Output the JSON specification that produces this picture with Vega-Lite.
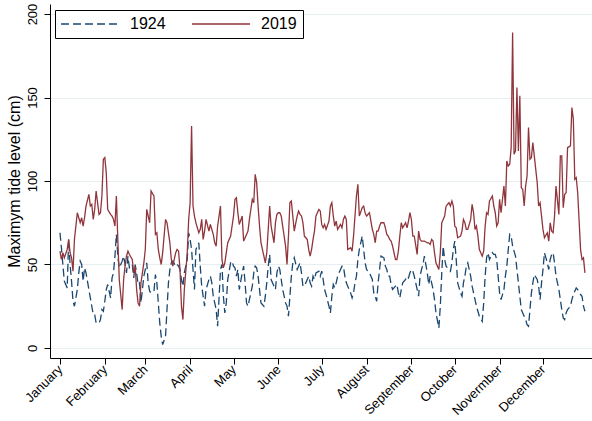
{
"$schema": "https://vega.github.io/schema/vega-lite/v6.json",
"width": 542, "height": 354,
"autosize": {"type": "none"},
"padding": {"left": 50, "top": 4, "right": 0, "bottom": 63},
"background": "white",
"config": {"view": {"stroke": null}, "font": "Liberation Sans"},
"data": {"values": [
{"day":1,"1924":69,"2019":58},{"day":2,"1924":60,"2019":53},{"day":3,"1924":50,"2019":57},{"day":4,"1924":40,"2019":54},{"day":6,"1924":36,"2019":59},{"day":7,"1924":65,"2019":65},{"day":8,"1924":50,"2019":57},{"day":9,"1924":40,"2019":54},{"day":10,"1924":28,"2019":46},{"day":11,"1924":25,"2019":65},{"day":13,"1924":35,"2019":81},{"day":14,"1924":45,"2019":78},{"day":15,"1924":52,"2019":75},{"day":16,"1924":50,"2019":78},{"day":17,"1924":40,"2019":73},{"day":18,"1924":48,"2019":78},{"day":19,"1924":45,"2019":85},{"day":21,"1924":35,"2019":92},{"day":22,"1924":30,"2019":85},{"day":23,"1924":25,"2019":86},{"day":24,"1924":20,"2019":77},{"day":25,"1924":20,"2019":83},{"day":26,"1924":15,"2019":94},{"day":28,"1924":15,"2019":80},{"day":29,"1924":17,"2019":81},{"day":30,"1924":23,"2019":91},{"day":31,"1924":22,"2019":113},{"day":32,"1924":28,"2019":114},{"day":33,"1924":35,"2019":105},{"day":34,"1924":38,"2019":83},{"day":36,"1924":30,"2019":80},{"day":37,"1924":42,"2019":79},{"day":38,"1924":45,"2019":77},{"day":39,"1924":55,"2019":73},{"day":40,"1924":68,"2019":91},{"day":41,"1924":55,"2019":65},{"day":42,"1924":48,"2019":41},{"day":44,"1924":52,"2019":23},{"day":45,"1924":55,"2019":41},{"day":46,"1924":50,"2019":49},{"day":47,"1924":45,"2019":55},{"day":48,"1924":55,"2019":58},{"day":49,"1924":48,"2019":56},{"day":51,"1924":50,"2019":53},{"day":52,"1924":42,"2019":45},{"day":53,"1924":50,"2019":49},{"day":54,"1924":45,"2019":35},{"day":55,"1924":38,"2019":27},
{"day":56,"1924":39,"2019":25},{"day":57,"1924":27,"2019":39},{"day":59,"1924":43,"2019":51},{"day":60,"1924":47,"2019":59},{"day":61,"1924":51,"2019":83},{"day":62,"1924":39,"2019":79},{"day":63,"1924":34,"2019":75},{"day":64,"1924":33,"2019":94},{"day":66,"1924":34,"2019":91},{"day":67,"1924":44,"2019":68},{"day":68,"1924":39,"2019":69},{"day":69,"1924":27,"2019":59},{"day":70,"1924":15,"2019":54},{"day":71,"1924":7,"2019":50},{"day":72,"1924":2,"2019":57},{"day":74,"1924":7,"2019":77},{"day":75,"1924":23,"2019":75},{"day":76,"1924":39,"2019":69},{"day":77,"1924":47,"2019":63},{"day":78,"1924":51,"2019":53},{"day":79,"1924":52,"2019":49},{"day":81,"1924":49,"2019":57},{"day":82,"1924":50,"2019":59},{"day":83,"1924":49,"2019":58},{"day":84,"1924":47,"2019":47},{"day":85,"1924":41,"2019":25},{"day":86,"1924":37,"2019":17},{"day":87,"1924":45,"2019":35},{"day":89,"1924":53,"2019":57},{"day":90,"1924":69,"2019":77},{"day":91,"1924":65,"2019":87},{"day":92,"1924":59,"2019":133},{"day":93,"1924":47,"2019":85},{"day":94,"1924":35,"2019":79},{"day":95,"1924":59,"2019":75},{"day":97,"1924":63,"2019":69},{"day":98,"1924":49,"2019":71},{"day":99,"1924":37,"2019":77},{"day":100,"1924":31,"2019":65},{"day":101,"1924":25,"2019":70},{"day":102,"1924":35,"2019":77},{"day":104,"1924":41,"2019":70},{"day":105,"1924":43,"2019":74},{"day":106,"1924":39,"2019":71},{"day":107,"1924":31,"2019":68},{"day":108,"1924":27,"2019":63},{"day":109,"1924":23,"2019":61},{"day":110,"1924":13,"2019":73},{"day":112,"1924":47,"2019":85},{"day":113,"1924":50,"2019":53},{"day":114,"1924":31,"2019":48},{"day":115,"1924":21,"2019":51},{"day":116,"1924":27,"2019":57},{"day":117,"1924":41,"2019":63},{"day":119,"1924":51,"2019":67},{"day":120,"1924":52,"2019":73},{"day":121,"1924":49,"2019":79},
{"day":122,"1924":48,"2019":89},{"day":123,"1924":43,"2019":90},{"day":124,"1924":47,"2019":81},{"day":125,"1924":35,"2019":74},{"day":127,"1924":45,"2019":79},{"day":128,"1924":49,"2019":64},{"day":129,"1924":39,"2019":66},{"day":130,"1924":27,"2019":68},{"day":131,"1924":25,"2019":70},{"day":132,"1924":29,"2019":77},{"day":134,"1924":37,"2019":89},{"day":135,"1924":45,"2019":87},{"day":136,"1924":49,"2019":104},{"day":137,"1924":48,"2019":99},{"day":138,"1924":43,"2019":85},{"day":139,"1924":35,"2019":73},{"day":140,"1924":27,"2019":63},{"day":142,"1924":25,"2019":55},{"day":143,"1924":31,"2019":51},{"day":144,"1924":39,"2019":57},{"day":145,"1924":49,"2019":71},{"day":146,"1924":56,"2019":85},{"day":147,"1924":41,"2019":73},{"day":149,"1924":37,"2019":63},{"day":150,"1924":35,"2019":75},{"day":151,"1924":45,"2019":80},{"day":152,"1924":49,"2019":81},{"day":153,"1924":47,"2019":81},{"day":154,"1924":41,"2019":79},{"day":155,"1924":35,"2019":73},{"day":157,"1924":27,"2019":61},{"day":158,"1924":25,"2019":50},{"day":159,"1924":19,"2019":67},{"day":160,"1924":31,"2019":87},{"day":161,"1924":43,"2019":88},{"day":162,"1924":51,"2019":79},{"day":163,"1924":54,"2019":70},{"day":165,"1924":47,"2019":79},{"day":166,"1924":49,"2019":82},{"day":167,"1924":51,"2019":80},{"day":168,"1924":45,"2019":79},{"day":169,"1924":37,"2019":75},{"day":170,"1924":37,"2019":67},{"day":172,"1924":41,"2019":65},{"day":173,"1924":43,"2019":59},{"day":174,"1924":39,"2019":55},{"day":175,"1924":37,"2019":59},{"day":176,"1924":43,"2019":65},{"day":177,"1924":41,"2019":70},{"day":178,"1924":45,"2019":79},{"day":180,"1924":46,"2019":83},{"day":181,"1924":43,"2019":82},{"day":182,"1924":46,"2019":74},{"day":183,"1924":41,"2019":72},{"day":184,"1924":35,"2019":74},{"day":185,"1924":32,"2019":71},{"day":187,"1924":25,"2019":76},
{"day":188,"1924":21,"2019":85},{"day":189,"1924":31,"2019":87},{"day":190,"1924":38,"2019":79},{"day":191,"1924":36,"2019":73},{"day":192,"1924":39,"2019":76},{"day":193,"1924":43,"2019":71},{"day":195,"1924":47,"2019":74},{"day":196,"1924":49,"2019":72},{"day":197,"1924":49,"2019":77},{"day":198,"1924":43,"2019":79},{"day":199,"1924":39,"2019":77},{"day":200,"1924":37,"2019":59},{"day":202,"1924":33,"2019":60},{"day":203,"1924":30,"2019":58},{"day":204,"1924":33,"2019":67},{"day":205,"1924":39,"2019":79},{"day":206,"1924":43,"2019":91},{"day":207,"1924":53,"2019":98},{"day":208,"1924":59,"2019":79},{"day":210,"1924":67,"2019":84},{"day":211,"1924":59,"2019":85},{"day":212,"1924":51,"2019":81},{"day":213,"1924":47,"2019":79},{"day":214,"1924":46,"2019":80},{"day":215,"1924":45,"2019":81},{"day":217,"1924":41,"2019":71},{"day":218,"1924":33,"2019":68},{"day":219,"1924":31,"2019":63},{"day":220,"1924":28,"2019":70},{"day":221,"1924":39,"2019":70},{"day":222,"1924":47,"2019":73},{"day":223,"1924":55,"2019":75},{"day":225,"1924":54,"2019":75},{"day":226,"1924":49,"2019":72},{"day":227,"1924":47,"2019":68},{"day":228,"1924":43,"2019":67},{"day":229,"1924":43,"2019":65},{"day":230,"1924":38,"2019":64},{"day":231,"1924":35,"2019":61},{"day":233,"1924":37,"2019":53},{"day":234,"1924":38,"2019":53},{"day":235,"1924":33,"2019":58},{"day":236,"1924":30,"2019":67},{"day":237,"1924":35,"2019":75},{"day":238,"1924":39,"2019":72},{"day":240,"1924":41,"2019":75},{"day":241,"1924":43,"2019":72},{"day":242,"1924":42,"2019":76},{"day":243,"1924":45,"2019":81},{"day":244,"1924":47,"2019":77},{"day":245,"1924":46,"2019":67},{"day":246,"1924":43,"2019":67},{"day":248,"1924":35,"2019":56},{"day":249,"1924":31,"2019":70},{"day":250,"1924":43,"2019":65},{"day":251,"1924":47,"2019":64},{"day":252,"1924":50,"2019":64},
{"day":253,"1924":55,"2019":64},{"day":255,"1924":45,"2019":63},{"day":256,"1924":38,"2019":63},{"day":257,"1924":43,"2019":62},{"day":258,"1924":39,"2019":65},{"day":259,"1924":35,"2019":64},{"day":260,"1924":29,"2019":57},{"day":261,"1924":21,"2019":51},{"day":263,"1924":12,"2019":47},{"day":264,"1924":25,"2019":57},{"day":265,"1924":45,"2019":75},{"day":266,"1924":61,"2019":77},{"day":267,"1924":53,"2019":79},{"day":268,"1924":49,"2019":85},{"day":270,"1924":47,"2019":87},{"day":271,"1924":46,"2019":85},{"day":272,"1924":51,"2019":88},{"day":273,"1924":59,"2019":85},{"day":274,"1924":64,"2019":73},{"day":275,"1924":53,"2019":72},{"day":276,"1924":39,"2019":66},{"day":278,"1924":33,"2019":67},{"day":279,"1924":31,"2019":70},{"day":280,"1924":39,"2019":77},{"day":281,"1924":43,"2019":75},{"day":282,"1924":49,"2019":71},{"day":283,"1924":51,"2019":71},{"day":285,"1924":43,"2019":77},{"day":286,"1924":37,"2019":86},{"day":287,"1924":33,"2019":81},{"day":288,"1924":29,"2019":71},{"day":289,"1924":25,"2019":73},{"day":290,"1924":22,"2019":67},{"day":291,"1924":19,"2019":59},{"day":293,"1924":16,"2019":55},{"day":294,"1924":27,"2019":58},{"day":295,"1924":43,"2019":73},{"day":296,"1924":54,"2019":81},{"day":297,"1924":57,"2019":80},{"day":298,"1924":53,"2019":88},{"day":300,"1924":57,"2019":91},{"day":301,"1924":56,"2019":85},{"day":302,"1924":56,"2019":81},{"day":303,"1924":53,"2019":73},{"day":304,"1924":43,"2019":75},{"day":305,"1924":33,"2019":89},{"day":306,"1924":29,"2019":81},{"day":308,"1924":35,"2019":97},
{"day":309,"1924":43,"2019":85},{"day":310,"1924":49,"2019":112},{"day":311,"1924":59,"2019":109},{"day":312,"1924":68,"2019":110},{"day":313,"1924":67,"2019":120},{"day":314,"1924":61,"2019":189},{"day":315,"1924":58,"2019":116},{"day":316,"1924":55,"2019":118},{"day":317,"1924":47,"2019":156},{"day":318,"1924":39,"2019":118},{"day":319,"1924":31,"2019":151},{"day":320,"1924":23,"2019":96},{"day":321,"1924":21,"2019":95},{"day":322,"1924":19,"2019":85},{"day":323,"1924":17,"2019":97},{"day":324,"1924":14,"2019":103},{"day":325,"1924":13,"2019":132},{"day":326,"1924":23,"2019":113},{"day":327,"1924":33,"2019":114},{"day":328,"1924":39,"2019":123},{"day":329,"1924":44,"2019":115},{"day":331,"1924":41,"2019":99},{"day":332,"1924":37,"2019":85},{"day":333,"1924":29,"2019":87},{"day":334,"1924":39,"2019":79},{"day":335,"1924":47,"2019":71},{"day":336,"1924":57,"2019":66},{"day":338,"1924":51,"2019":69},{"day":339,"1924":47,"2019":64},{"day":340,"1924":53,"2019":75},{"day":341,"1924":56,"2019":70},{"day":342,"1924":57,"2019":69},{"day":343,"1924":51,"2019":79},{"day":344,"1924":43,"2019":97},{"day":346,"1924":35,"2019":80},{"day":347,"1924":29,"2019":115},{"day":348,"1924":23,"2019":115},{"day":349,"1924":18,"2019":84},{"day":350,"1924":17,"2019":92},{"day":351,"1924":21,"2019":93},{"day":352,"1924":23,"2019":120},{"day":354,"1924":25,"2019":121},{"day":355,"1924":29,"2019":144},{"day":356,"1924":32,"2019":137},{"day":357,"1924":34,"2019":101},{"day":358,"1924":36,"2019":102},{"day":359,"1924":35,"2019":93},{"day":361,"1924":32,"2019":59},{"day":362,"1924":31,"2019":53},{"day":363,"1924":25,"2019":54},{"day":364,"1924":22,"2019":45}
]},
"transform": [{"fold": ["1924", "2019"], "as": ["series", "cm"]}],
"mark": {"type": "line", "strokeWidth": 1.3, "clip": true},
"encoding": {
  "x": {"field": "day", "type": "quantitative",
    "scale": {"domain": [-5.9, 368.9], "nice": false, "zero": false},
    "axis": {"title": null, "grid": false,
      "values": [1, 32, 60, 91, 121, 152, 182, 213, 244, 274, 305, 335],
      "labelExpr": "['January','February','March','April','May','June','July','August','September','October','Novermber','December'][indexof([1,32,60,91,121,152,182,213,244,274,305,335], datum.value)]",
      "labelAngle": -45, "labelAlign": "right", "labelBaseline": "middle", "labelPadding": 3,
      "labelFontSize": 13, "labelColor": "black", "labelFont": "Liberation Sans",
      "tickColor": "black", "tickSize": 6, "domainColor": "black", "labelOverlap": false}},
  "y": {"field": "cm", "type": "quantitative",
    "scale": {"domain": [-6, 206], "nice": false, "zero": false},
    "axis": {"title": "Maximym tide level (cm)", "titleFontSize": 16, "titleFontWeight": "normal", "titleColor": "black", "titleFont": "Liberation Sans", "titlePadding": 4,
      "values": [0, 50, 100, 150, 200],
      "labelAngle": -90, "labelAlign": "center", "labelBaseline": "bottom", "labelPadding": 5,
      "labelFontSize": 13, "labelColor": "black", "labelFont": "Liberation Sans",
      "tickColor": "black", "tickSize": 6, "domainColor": "black",
      "gridColor": "#e6eef0", "gridWidth": 1.2}},
  "color": {"field": "series", "type": "nominal",
    "scale": {"domain": ["1924", "2019"], "range": ["#1a476f", "#90353b"]},
    "legend": {"title": null, "orient": "none", "legendX": 5, "legendY": 6, "direction": "horizontal", "columns": 2,
      "symbolType": "M-4,0L4,0", "symbolSize": 210, "symbolStrokeWidth": 1.3, "symbolOffset": 21, "labelFontSize": 16, "labelColor": "black", "labelFont": "Liberation Sans",
      "strokeColor": "black", "fillColor": "white", "padding": 6, "columnPadding": 23, "labelOffset": 32}},
  "strokeDash": {"field": "series", "type": "nominal",
    "scale": {"domain": ["1924", "2019"], "range": [[8, 4], [1, 0]]},
    "legend": {"title": null, "orient": "none", "legendX": 5, "legendY": 6, "direction": "horizontal", "columns": 2,
      "symbolType": "M-4,0L4,0", "symbolSize": 210, "symbolStrokeWidth": 1.3, "symbolOffset": 21, "labelFontSize": 16, "labelColor": "black", "labelFont": "Liberation Sans",
      "strokeColor": "black", "fillColor": "white", "padding": 6, "columnPadding": 23, "labelOffset": 32}}
}
}
